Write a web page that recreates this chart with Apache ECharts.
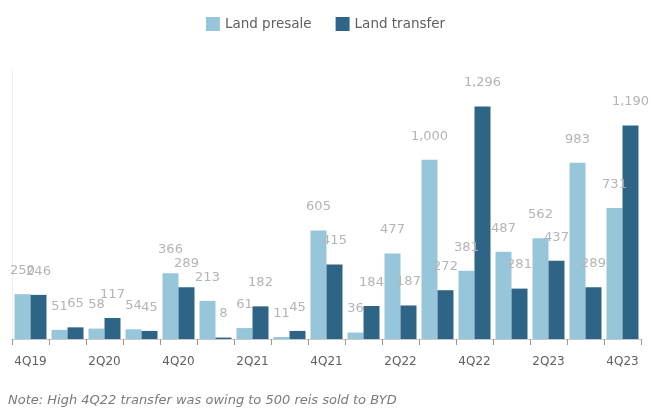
<!DOCTYPE html>
<html>
<head>
<meta charset="utf-8">
<script src="https://cdn.jsdelivr.net/npm/echarts@6/dist/echarts.min.js"></script>
<style>
html,body{margin:0;padding:0;background:#fff;}
#c{width:651px;height:410px;}
</style>
</head>
<body>
<div id="c"></div>
<script>
var categories = ['4Q19','1Q20','2Q20','3Q20','4Q20','1Q21','2Q21','3Q21','4Q21','1Q22','2Q22','3Q22','4Q22','1Q23','2Q23','3Q23','4Q23'];
var presale = [250, 51, 58, 54, 366, 213, 61, 11, 605, 36, 477, 1000, 381, 487, 562, 983, 731];
var transfer = [246, 65, 117, 45, 289, 8, 182, 45, 415, 184, 187, 272, 1296, 281, 437, 289, 1190];
var seriesNames = ['Land presale', 'Land transfer'];
var noteText = 'Note: High 4Q22 transfer was owing to 500 reis sold to BYD';

var font = 'DejaVu Sans, sans-serif';
var labelCfg = {
  show: true,
  position: 'top',
  distance: 17,
  color: '#b4b4b4',
  fontSize: 13,
  fontFamily: font,
  formatter: function (p) { return Number(p.value).toLocaleString('en-US'); }
};

var chart = echarts.init(document.getElementById('c'), null, {renderer: 'canvas'});
chart.setOption({
  backgroundColor: '#ffffff',
  animation: false,
  title: {
    text: noteText,
    left: 3,
    top: 389,
    textStyle: {fontSize: 13, fontStyle: 'italic', fontWeight: 'normal', color: '#7a7a7a', fontFamily: font}
  },
  legend: {
    top: 12,
    left: 'center',
    icon: 'rect',
    itemWidth: 14,
    itemHeight: 14,
    itemGap: 24,
    textStyle: {fontSize: 13.5, color: '#606060', fontFamily: font},
    data: seriesNames
  },
  grid: {left: 12, right: 10, top: 70, bottom: 71, containLabel: false},
  xAxis: {
    type: 'category',
    data: categories,
    axisLine: {lineStyle: {color: '#c8c8c8'}},
    axisTick: {show: true, interval: 0, length: 6, lineStyle: {color: '#999'}},
    axisLabel: {interval: 1, color: '#606060', fontSize: 12, margin: 17, fontFamily: font}
  },
  yAxis: {
    type: 'value',
    min: 0,
    max: 1500,
    interval: 300,
    axisLine: {show: true, lineStyle: {color: '#f0f0f0'}},
    axisTick: {show: false},
    axisLabel: {show: false},
    splitLine: {show: false}
  },
  series: [
    {
      name: seriesNames[0],
      type: 'bar',
      data: presale,
      barWidth: 16,
      barGap: '0%',
      itemStyle: {color: '#97c6db'},
      label: labelCfg
    },
    {
      name: seriesNames[1],
      type: 'bar',
      data: transfer,
      barWidth: 16,
      barGap: '0%',
      itemStyle: {color: '#2e6587'},
      label: labelCfg
    }
  ]
});
</script>
</body>
</html>
